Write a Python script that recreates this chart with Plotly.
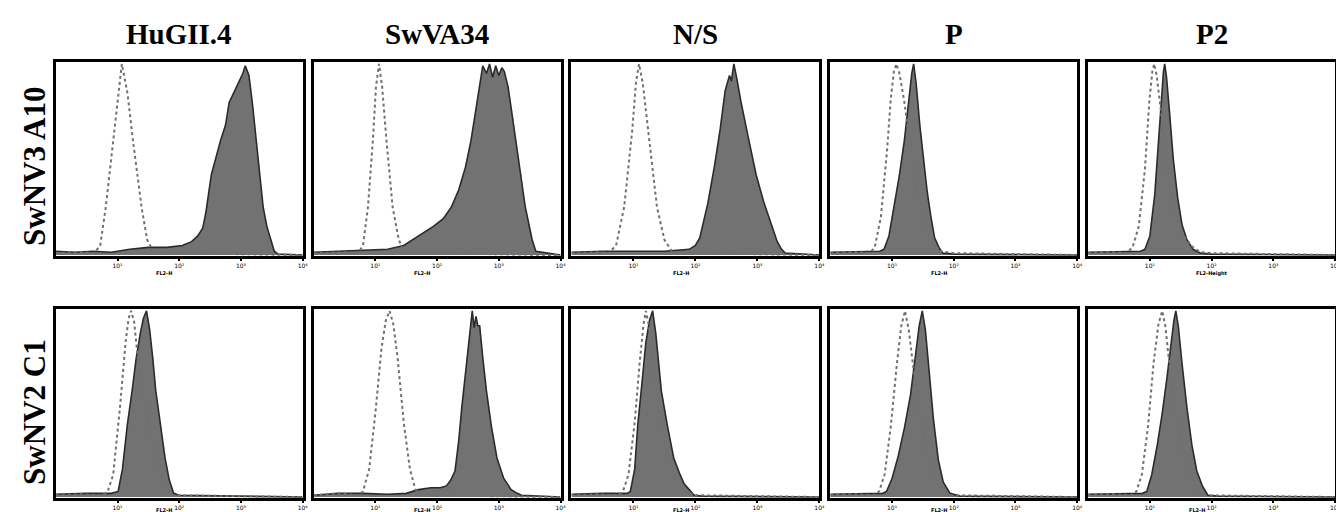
import plotly.graph_objects as go

COLUMNS = ["HuGII.4", "SwVA34", "N/S", "P", "P2"]
ROWS = ["SwNV3 A10", "SwNV2 C1"]
TICK_VALS = [1, 2, 3, 4]
TICK_LABELS = ["10¹", "10²", "10³", "10⁴"]
AXIS_TITLES = [["FL2-H", "FL2-H", "FL2-H", "FL2-H", "FL2-Height"],
               ["FL2-H", "FL2-H", "FL2-H", "FL2-H", "FL2-H"]]

# x in decades of fluorescence (log10), y = relative cell count (% of max)
# ---- Row 1: SwNV3 A10 ----
A10_HUGII4_CTRL_X = [0, 0.4, 0.62, 0.72, 0.81, 0.93, 1.01, 1.07, 1.16, 1.25, 1.39, 1.48, 1.58, 1.8, 4]
A10_HUGII4_CTRL_Y = [1, 1.5, 1, 5, 25, 60, 85, 100, 85, 60, 25, 8, 2, 1, 0]
A10_HUGII4_FILL_X = [0, 0.3, 0.6, 0.9, 1.2, 1.5, 1.8, 2.05, 2.2, 2.3, 2.38, 2.43, 2.52, 2.6, 2.67, 2.75, 2.81, 2.9,
                     2.96, 3.03, 3.07, 3.13, 3.19, 3.25, 3.3, 3.36, 3.42, 3.48, 3.54, 3.6, 4]
A10_HUGII4_FILL_Y = [2, 1.5, 2, 1.5, 3, 4, 4, 5, 7, 10, 14, 22, 42, 52, 60, 68, 80, 86,
                     90, 95, 99, 94, 78, 60, 42, 25, 15, 8, 2, 0.5, 0]

A10_SWVA34_CTRL_X = [0, 0.5, 0.72, 0.8, 0.88, 0.96, 1.01, 1.06, 1.11, 1.18, 1.28, 1.38, 1.46, 1.6, 4]
A10_SWVA34_CTRL_Y = [1, 1.5, 1, 5, 25, 60, 88, 100, 88, 60, 25, 8, 2, 1, 0]
A10_SWVA34_FILL_X = [0, 0.4, 0.8, 1.2, 1.46, 1.7, 1.94, 2.1, 2.23, 2.35, 2.46, 2.55, 2.63, 2.7, 2.74, 2.8, 2.85,
                     2.9, 2.95, 3.0, 3.05, 3.09, 3.15, 3.2, 3.31, 3.43, 3.54, 3.6, 4]
A10_SWVA34_FILL_Y = [1.5, 2, 2.5, 3, 5, 10, 15, 19, 25, 34, 46, 60, 77, 90, 99, 95, 100,
                     93, 99, 94, 98, 96, 88, 77, 51, 25, 8, 2, 0]

A10_NS_CTRL_X = [0, 0.4, 0.6, 0.72, 0.85, 0.98, 1.04, 1.09, 1.15, 1.25, 1.38, 1.5, 1.62, 1.8, 4]
A10_NS_CTRL_Y = [1, 1.5, 1, 5, 25, 65, 90, 100, 90, 62, 25, 8, 2, 1, 0]
A10_NS_FILL_X = [0, 0.5, 1, 1.5, 1.9, 2.0, 2.07, 2.2, 2.31, 2.4, 2.48, 2.55, 2.58, 2.62, 2.67, 2.73, 2.85,
                 2.98, 3.1, 3.22, 3.32, 3.39, 3.45, 4]
A10_NS_FILL_Y = [1.5, 2, 2, 2, 3, 5, 9, 27, 47, 66, 86, 94, 91, 100, 92, 81, 62,
                 42, 28, 16, 7, 3, 1, 0]

A10_P_CTRL_X = [0, 0.4, 0.64, 0.72, 0.82, 0.92, 0.98, 1.03, 1.07, 1.12, 1.2, 1.3, 1.42, 1.53, 1.65, 1.78, 2.0, 4]
A10_P_CTRL_Y = [1, 1.5, 1, 4, 20, 55, 82, 96, 100, 95, 80, 55, 30, 16, 7, 2, 1, 0]
A10_P_FILL_X = [0, 0.5, 0.8, 0.87, 0.95, 1.03, 1.12, 1.2, 1.28, 1.32, 1.35, 1.39, 1.45, 1.51, 1.57, 1.63,
                1.69, 1.76, 1.82, 2.0, 4]
A10_P_FILL_Y = [1.5, 2, 2, 3, 10, 25, 42, 60, 86, 95, 100, 90, 68, 50, 33, 20,
                9, 4, 1, 0.5, 0]

A10_P2_CTRL_X = [0, 0.4, 0.62, 0.72, 0.82, 0.92, 0.99, 1.04, 1.07, 1.11, 1.18, 1.28, 1.4, 1.55, 1.7, 1.82, 2.0, 4]
A10_P2_CTRL_Y = [1, 1.5, 1, 4, 15, 45, 80, 96, 100, 94, 75, 45, 22, 10, 4, 1.5, 1, 0]
A10_P2_FILL_X = [0, 0.5, 0.85, 0.92, 1.0, 1.08, 1.14, 1.19, 1.22, 1.24, 1.27, 1.32, 1.38, 1.45, 1.52, 1.6,
                 1.7, 1.82, 2.0, 4]
A10_P2_FILL_Y = [1.5, 2, 2, 3, 10, 32, 62, 85, 96, 100, 93, 74, 50, 30, 16, 8,
                 3, 1, 0.5, 0]

# ---- Row 2: SwNV2 C1 ----
C1_HUGII4_CTRL_X = [0, 0.4, 0.75, 0.84, 0.93, 1.04, 1.13, 1.18, 1.22, 1.27, 1.33, 1.42, 1.51, 1.6, 1.68, 1.78, 1.9, 4]
C1_HUGII4_CTRL_Y = [1, 1.5, 1, 3, 12, 48, 83, 96, 100, 94, 74, 55, 39, 22, 12, 4, 1, 0]
C1_HUGII4_FILL_X = [0, 0.5, 0.9, 1.01, 1.08, 1.16, 1.24, 1.3, 1.37, 1.42, 1.47, 1.52, 1.57, 1.62, 1.7, 1.77,
                    1.84, 1.91, 2.0, 4]
C1_HUGII4_FILL_Y = [1.5, 2, 2, 3, 15, 39, 58, 74, 88, 96, 100, 90, 75, 57, 38, 21,
                    9, 2, 1, 0]

C1_SWVA34_CTRL_X = [0, 0.4, 0.72, 0.8, 0.9, 1.0, 1.1, 1.17, 1.23, 1.29, 1.36, 1.46, 1.56, 1.65, 1.75, 4]
C1_SWVA34_CTRL_Y = [1, 2, 1, 3, 15, 45, 80, 95, 100, 93, 75, 40, 15, 4, 1, 0]
C1_SWVA34_FILL_X = [0, 0.4, 0.8, 1.2, 1.5, 1.7, 1.9, 2.05, 2.15, 2.22, 2.29, 2.35, 2.4, 2.46, 2.51, 2.55,
                    2.57, 2.6, 2.63, 2.66, 2.69, 2.74, 2.8, 2.88, 2.97, 3.08, 3.2, 3.3, 3.37, 4]
C1_SWVA34_FILL_Y = [1, 2, 2, 1.5, 2, 4, 5, 5, 6, 9, 14, 30, 48, 66, 83, 95,
                    100, 91, 97, 92, 92, 75, 57, 38, 21, 10, 4, 2, 1, 0]

C1_NS_CTRL_X = [0, 0.4, 0.75, 0.83, 0.92, 1.02, 1.1, 1.16, 1.2, 1.25, 1.32, 1.42, 1.52, 1.62, 1.74, 1.85, 2.0, 4]
C1_NS_CTRL_Y = [1, 1.5, 1, 3, 12, 40, 72, 92, 100, 92, 72, 45, 28, 16, 8, 3, 1, 0]
C1_NS_FILL_X = [0, 0.5, 0.9, 0.95, 1.02, 1.07, 1.14, 1.2, 1.26, 1.31, 1.36, 1.45, 1.55, 1.65, 1.74, 1.82,
                1.9, 1.98, 2.1, 4]
C1_NS_FILL_Y = [1.5, 2, 2, 3, 15, 39, 62, 83, 95, 100, 88, 57, 38, 21, 13, 7,
                4, 1, 0.5, 0]

C1_P_CTRL_X = [0, 0.4, 0.7, 0.79, 0.88, 0.98, 1.08, 1.15, 1.21, 1.27, 1.35, 1.45, 1.55, 1.65, 1.78, 1.94, 4]
C1_P_CTRL_Y = [1, 1.5, 1, 3, 12, 38, 72, 92, 100, 90, 68, 45, 28, 14, 6, 1, 0]
C1_P_FILL_X = [0, 0.5, 0.85, 0.91, 1.0, 1.1, 1.2, 1.3, 1.38, 1.44, 1.49, 1.54, 1.6, 1.67, 1.75, 1.83,
               1.94, 2.1, 4]
C1_P_FILL_Y = [1.5, 2, 2, 3, 10, 22, 37, 55, 75, 92, 100, 90, 68, 42, 20, 8,
               2, 0.5, 0]

C1_P2_CTRL_X = [0, 0.4, 0.7, 0.78, 0.87, 0.97, 1.06, 1.14, 1.2, 1.25, 1.32, 1.42, 1.52, 1.62, 1.72, 1.82, 4]
C1_P2_CTRL_Y = [1, 1.5, 1, 3, 12, 38, 72, 93, 100, 92, 70, 45, 25, 12, 5, 1, 0]
C1_P2_FILL_X = [0, 0.5, 0.88, 0.95, 1.03, 1.12, 1.2, 1.28, 1.35, 1.39, 1.42, 1.46, 1.52, 1.6, 1.68, 1.76,
                1.85, 1.94, 2.1, 4]
C1_P2_FILL_Y = [1.5, 2, 2, 3, 12, 28, 45, 65, 85, 95, 100, 92, 72, 48, 28, 14,
                6, 1, 0.5, 0]

PANELS = [
    [(A10_HUGII4_CTRL_X, A10_HUGII4_CTRL_Y, A10_HUGII4_FILL_X, A10_HUGII4_FILL_Y),
     (A10_SWVA34_CTRL_X, A10_SWVA34_CTRL_Y, A10_SWVA34_FILL_X, A10_SWVA34_FILL_Y),
     (A10_NS_CTRL_X, A10_NS_CTRL_Y, A10_NS_FILL_X, A10_NS_FILL_Y),
     (A10_P_CTRL_X, A10_P_CTRL_Y, A10_P_FILL_X, A10_P_FILL_Y),
     (A10_P2_CTRL_X, A10_P2_CTRL_Y, A10_P2_FILL_X, A10_P2_FILL_Y)],
    [(C1_HUGII4_CTRL_X, C1_HUGII4_CTRL_Y, C1_HUGII4_FILL_X, C1_HUGII4_FILL_Y),
     (C1_SWVA34_CTRL_X, C1_SWVA34_CTRL_Y, C1_SWVA34_FILL_X, C1_SWVA34_FILL_Y),
     (C1_NS_CTRL_X, C1_NS_CTRL_Y, C1_NS_FILL_X, C1_NS_FILL_Y),
     (C1_P_CTRL_X, C1_P_CTRL_Y, C1_P_FILL_X, C1_P_FILL_Y),
     (C1_P2_CTRL_X, C1_P2_CTRL_Y, C1_P2_FILL_X, C1_P2_FILL_Y)],
]

W, H = 1344, 512
COL_PX = [(48, 296), (307, 555), (566, 815), (826, 1074), (1085, 1333)]
ROW_PX = [(54, 248), (301, 490)]
TITLE_OFFSET = [17, 12]
TITLE_X = [[0.44, 0.44, 0.44, 0.44, 0.5], [0.44, 0.44, 0.44, 0.44, 0.44]]

SERIF = "Liberation Serif, Times New Roman, serif"
fig = go.Figure()
layout = dict(
    width=W, height=H, margin=dict(l=0, r=0, t=0, b=0),
    paper_bgcolor="white", plot_bgcolor="white", showlegend=False,
    annotations=[],
)

k = 0
for r in range(2):
    for c in range(5):
        k += 1
        xa = "x" if k == 1 else f"x{k}"
        ya = "y" if k == 1 else f"y{k}"
        cx, cy, fx, fy = PANELS[r][c]
        fig.add_trace(go.Scatter(x=fx, y=fy, xaxis=xa, yaxis=ya, mode="lines",
                                 fill="tozeroy", fillcolor="#727272",
                                 line=dict(color="#2b2b2b", width=1.6), hoverinfo="skip"))
        fig.add_trace(go.Scatter(x=cx, y=cy, xaxis=xa, yaxis=ya, mode="lines",
                                 line=dict(color="#707070", width=2, dash="dot"), hoverinfo="skip"))
        x0, x1 = COL_PX[c]
        y0, y1 = ROW_PX[r]
        layout[f"xaxis{k}"] = dict(
            domain=[x0 / W, x1 / W], anchor=ya, range=[0, 4],
            showline=True, mirror=True, linecolor="black", linewidth=3,
            showgrid=False, zeroline=False, ticks="outside", ticklen=2, tickwidth=2,
            tickcolor="black", tickvals=TICK_VALS, ticktext=TICK_LABELS,
            tickfont=dict(size=6, color="black", family="DejaVu Sans"),
        )
        layout[f"yaxis{k}"] = dict(
            domain=[1 - y1 / H, 1 - y0 / H], anchor=xa, range=[-0.5, 101],
            showline=True, mirror=True, linecolor="black", linewidth=3,
            showgrid=False, zeroline=False, showticklabels=False, ticks="",
        )
        layout["annotations"].append(dict(
            text=f"<b>{AXIS_TITLES[r][c]}</b>", xref=f"{xa} domain", yref="paper",
            x=TITLE_X[r][c], y=1 - (y1 + TITLE_OFFSET[r]) / H, xanchor="center", yanchor="middle",
            borderpad=0, showarrow=False, font=dict(size=5, color="black", family="DejaVu Sans")))

for c, name in enumerate(COLUMNS):
    x0, x1 = COL_PX[c]
    layout["annotations"].append(dict(
        text=f"<b>{name}</b>", xref="paper", yref="paper",
        x=(x0 + x1) / 2 / W, y=1 - 26 / H, xanchor="center", yanchor="middle",
        showarrow=False, font=dict(size=29, color="black", family=SERIF)))

ROW_CENTERS = [158, 404]
for r, name in enumerate(ROWS):
    layout["annotations"].append(dict(
        text=f"<b>{name}</b>", xref="paper", yref="paper",
        x=26 / W, y=1 - ROW_CENTERS[r] / H, xanchor="center", yanchor="middle",
        textangle=-90, showarrow=False, font=dict(size=31, color="black", family=SERIF)))

fig.update_layout(**layout)
fig.write_html("out.html")
